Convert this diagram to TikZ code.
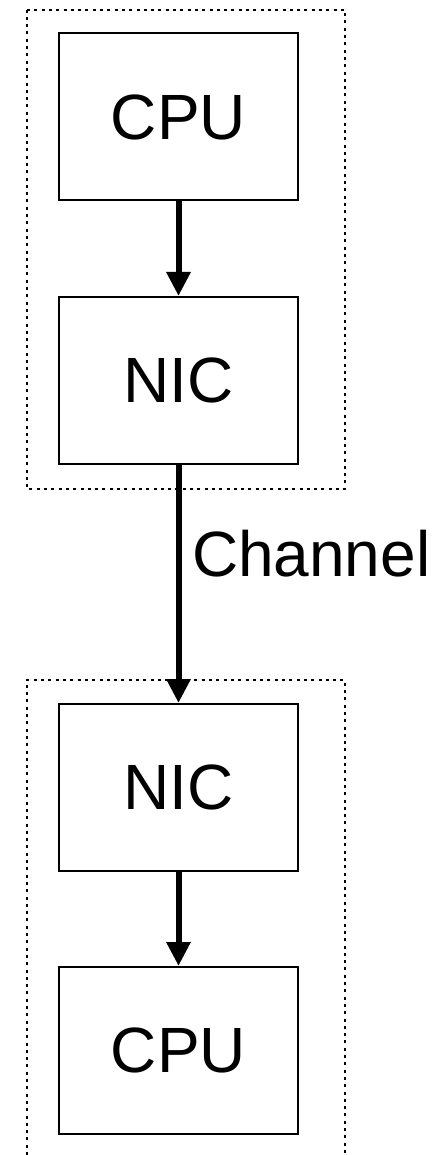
\documentclass[tikz,border=0pt]{standalone}
\usepackage{fontspec}
\setmainfont{Liberation Sans}
\usetikzlibrary{arrows.meta}

\tikzset{every picture/.style={line width=2pt}}
\tikzset{
  unitbox/.style={draw, line width=2pt, minimum width=239pt, minimum height=167pt, inner sep=0pt, font=\fontsize{64}{77}\selectfont},
  grpframe/.style={line width=2pt, dash pattern=on 3pt off 4.3pt},
  link/.style={line width=6pt, -{Triangle[width=23pt,length=24pt]}},
  chanlbl/.style={anchor=west, inner sep=0pt, font=\fontsize{64}{77}\selectfont}
}

\begin{document}
\begin{tikzpicture}[x=1pt,y=1pt,yscale=-1,xscale=1]
\useasboundingbox (0,0) rectangle (445,1155);

%Shape: dotted group frames
\draw [grpframe] (27,10) -- (345,10) -- (345,489) -- (27,489) -- cycle ;
\draw [grpframe] (27,1155) -- (27,680) -- (345,680) -- (345,1155) ;

%Shape: units
\node [unitbox] (cpuA) at (178.5,117) {CPU};
\node [unitbox] (nicA) at (178.5,380.5) {NIC};
\node [unitbox] (nicB) at (178.5,787.5) {NIC};
\node [unitbox] (cpuB) at (178.5,1050.5) {CPU};

%Straight Lines
\draw [link] (cpuA.south) -- (nicA.north) ;
\draw [link] (nicA.south) -- (nicB.north) ;
\draw [link] (nicB.south) -- (cpuB.north) ;

% Text Node
\node [chanlbl] (chan) at (191,554) {Channel};

\end{tikzpicture}
\end{document}
